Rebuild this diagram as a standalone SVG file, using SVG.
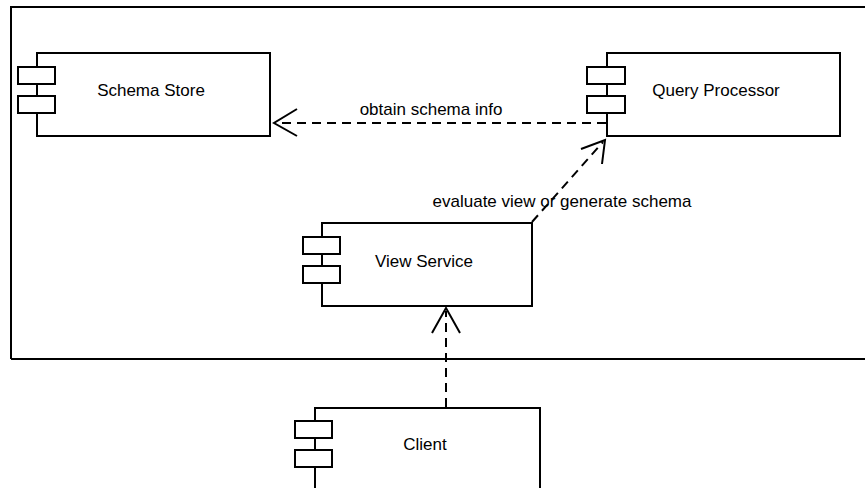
<svg xmlns="http://www.w3.org/2000/svg" width="865" height="488" viewBox="0 0 865 488">
<style>
.box{fill:#fff;stroke:#000;stroke-width:2}
.port{fill:#fff;stroke:#000;stroke-width:2}
.lbl{font-family:"Liberation Sans",Arial,sans-serif;font-size:17px;fill:#000}
.dep{fill:none;stroke:#000;stroke-width:2;stroke-dasharray:9,6}
.head{fill:none;stroke:#000;stroke-width:2}
</style>
<rect width="865" height="488" fill="#fff"/>
<path d="M11,359 V7 H870 M11,359 H870" fill="none" stroke="#000" stroke-width="2"/>
<g id="schema-store">
<rect class="box" x="37" y="53" width="233" height="83"/>
<rect class="port" x="18" y="67" width="37" height="17"/>
<rect class="port" x="18" y="96" width="37" height="17"/>
<text class="lbl" x="151" y="96" text-anchor="middle">Schema Store</text>
</g>
<g id="query-processor">
<rect class="box" x="607" y="53" width="233" height="83"/>
<rect class="port" x="587" y="67" width="38" height="17"/>
<rect class="port" x="587" y="96" width="38" height="17"/>
<text class="lbl" x="716" y="96" text-anchor="middle">Query Processor</text>
</g>
<g id="view-service">
<rect class="box" x="322" y="223" width="210" height="83"/>
<rect class="port" x="303" y="237" width="37" height="17"/>
<rect class="port" x="303" y="266" width="37" height="17"/>
<text class="lbl" x="424" y="267" text-anchor="middle">View Service</text>
</g>
<g id="client">
<rect class="box" x="315" y="408" width="225" height="100"/>
<rect class="port" x="295" y="421" width="37" height="17"/>
<rect class="port" x="295" y="450" width="37" height="17"/>
<text class="lbl" x="425" y="450" text-anchor="middle">Client</text>
</g>
<g id="connectors">
<line class="dep" x1="606" y1="123" x2="276" y2="123"/>
<polyline class="head" points="297,109 274,123 297,136"/>
<text class="lbl" x="431" y="115" text-anchor="middle">obtain schema info</text>
<line class="dep" x1="532" y1="222" x2="603" y2="142"/>
<polyline class="head" points="581,149 605,140 602,164"/>
<text class="lbl" x="562" y="207" text-anchor="middle">evaluate view or generate schema</text>
<line class="dep" x1="446" y1="407" x2="446" y2="311"/>
<polyline class="head" points="432,333 446,308 460,333"/>
</g>
</svg>
